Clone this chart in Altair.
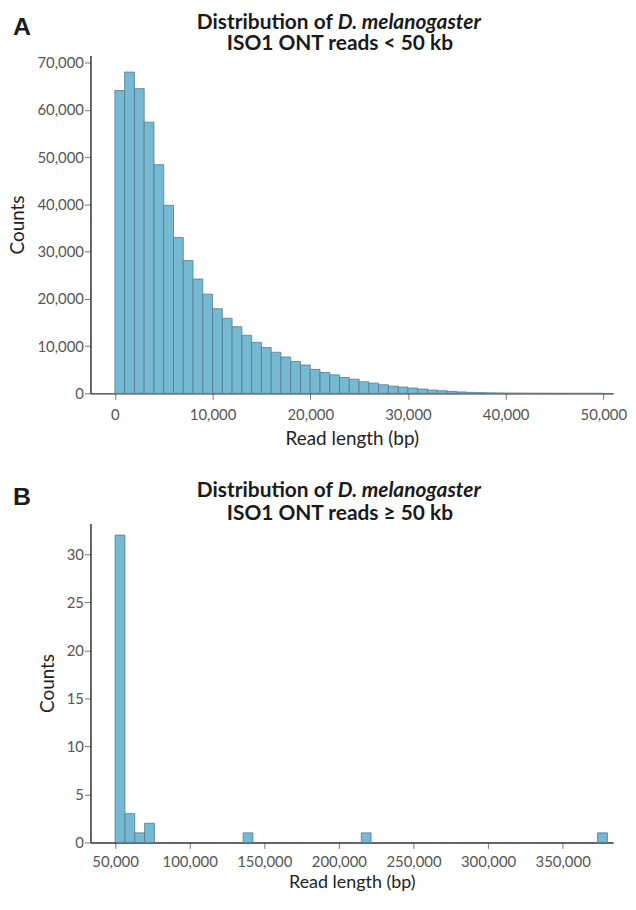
import altair as alt
import pandas as pd

# ---------------- data ----------------
top_bin_start = [0, 1000, 2000, 3000, 4000, 5000, 6000, 7000, 8000, 9000,
                 10000, 11000, 12000, 13000, 14000, 15000, 16000, 17000, 18000, 19000,
                 20000, 21000, 22000, 23000, 24000, 25000, 26000, 27000, 28000, 29000,
                 30000, 31000, 32000, 33000, 34000, 35000, 36000, 37000, 38000, 39000,
                 40000, 41000, 42000, 43000, 44000, 45000, 46000, 47000, 48000, 49000]
top_bin_width = 1000
top_counts = [64100, 68000, 64500, 57400, 48400, 39800, 33000, 28100, 24200, 21000,
              17900, 15900, 14100, 12300, 10800, 9700, 8700, 7700, 6750, 6000,
              5080, 4410, 3920, 3360, 3010, 2450, 2170, 1820, 1540, 1330,
              1120, 910, 700, 560, 420, 300, 210, 150, 110, 80,
              60, 45, 32, 24, 17, 12, 9, 6, 4, 3]

bottom_bin_start = [50000, 56600, 63200, 69800, 135800, 215000, 373400]
bottom_bin_width = 6600
bottom_counts = [32, 3, 1, 2, 1, 1, 1]

top_x_ticks = [0, 10000, 20000, 30000, 40000, 50000]
top_y_ticks = [0, 10000, 20000, 30000, 40000, 50000, 60000, 70000]
bottom_x_ticks = [50000, 100000, 150000, 200000, 250000, 300000, 350000]
bottom_y_ticks = [0, 5, 10, 15, 20, 25, 30]

FONT = "Lato"
BAR_FILL = "#76b9d2"
BAR_STROKE = "#557a90"
PLOT_W = 526

top_df = pd.DataFrame({
    "start": top_bin_start,
    "end": [s + top_bin_width for s in top_bin_start],
    "count": top_counts,
})
bottom_df = pd.DataFrame({
    "start": bottom_bin_start,
    "end": [s + bottom_bin_width for s in bottom_bin_start],
    "count": bottom_counts,
})

one_row = pd.DataFrame({"k": [0]})


def axis(values, title, title_size=19, **kw):
    return alt.Axis(
        values=values, format=",d", title=title, grid=False,
        tickSize=6, tickColor="#777", tickWidth=1,
        domainColor="#333", domainWidth=1.5,
        labelFont=FONT, labelFontSize=15, labelColor="#555",
        titleFont=FONT, titleFontSize=title_size, titleFontWeight="normal", titleColor="#222",
        **kw,
    )


def text_layer(txt, x, y, align="center", size=21, style="normal", weight="bold", font=FONT):
    return alt.Chart(one_row).mark_text(
        text=txt, align=align, baseline="alphabetic", font=font,
        fontSize=size, fontWeight=weight, fontStyle=style, color="#1a1a1a",
    ).encode(x=alt.value(x), y=alt.value(y))


def panel(df, xdom, ydom, xticks, yticks, label, label_y, line2, line2_y, height,
          x_label_pad, x_title_pad, x_title_size):
    bars = alt.Chart(df).mark_rect(
        fill=BAR_FILL, stroke=BAR_STROKE, strokeWidth=0.8
    ).encode(
        x=alt.X("start:Q", scale=alt.Scale(domain=xdom, nice=False, zero=False),
                axis=axis(xticks, "Read length (bp)", title_size=x_title_size,
                          labelPadding=x_label_pad, titlePadding=x_title_pad)),
        x2="end:Q",
        y=alt.Y("count:Q", scale=alt.Scale(domain=ydom, nice=False),
                axis=axis(yticks, "Counts", labelPadding=1, titlePadding=9)),
        y2=alt.datum(0),
    )
    layers = [
        bars,
        text_layer(label, -78, label_y, align="left", size=25, font="Liberation Sans"),
        text_layer("Distribution of", 244, -27, align="right"),
        text_layer("D. melanogaster", 249, -27, align="left", style="italic"),
        text_layer(line2, 251, line2_y),
    ]
    return alt.layer(*layers).properties(width=PLOT_W, height=height)


top = panel(top_df, [-2500, 51000], [0, 71500], top_x_ticks, top_y_ticks,
            "A", -21, "ISO1 ONT reads < 50 kb", -6, 340, 8, 7, 19)
bottom = panel(bottom_df, [33500, 383800], [0, 33.2], bottom_x_ticks, bottom_y_ticks,
               "B", -19, "ISO1 ONT reads \u2265 50 kb", -4, 321, 6, 4, 18)

chart = alt.vconcat(top, bottom, spacing=131, bounds="flush").properties(
    padding=0
).configure_view(stroke="transparent")

chart.save("out.html", embed_options={"renderer": "svg", "actions": False})
